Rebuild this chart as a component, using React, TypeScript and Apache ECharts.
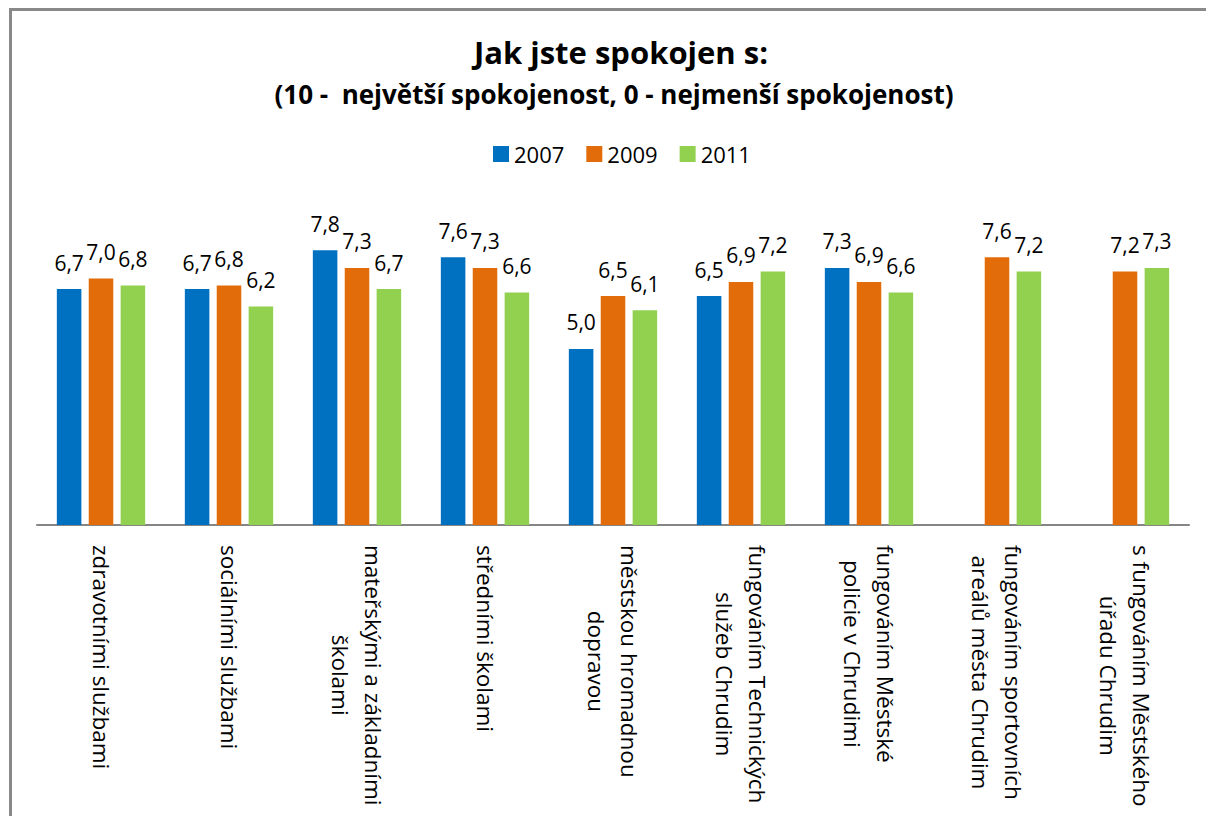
import React, { useEffect, useRef } from "react";
import * as echarts from "echarts";

const categories = [
  "zdravotními službami",
  "sociálními službami",
  "mateřskými a základními\nškolami",
  "středními školami",
  "městskou hromadnou\ndopravou",
  "fungováním Technických\nslužeb Chrudim",
  "fungováním Městské\npolicie v Chrudimi",
  "fungováním sportovních\nareálů města Chrudim",
  "s fungováním Městského\núřadu Chrudim",
];

const years = ["2007", "2009", "2011"];
const values2007 = [6.7, 6.7, 7.8, 7.6, 5.0, 6.5, 7.3, null, null];
const values2009 = [7.0, 6.8, 7.3, 7.3, 6.5, 6.9, 6.9, 7.6, 7.2];
const values2011 = [6.8, 6.2, 6.7, 6.6, 6.1, 7.2, 6.6, 7.2, 7.3];
const colors = ["#0070C0", "#E36C0A", "#92D050"];

const titleText = "Jak jste spokojen s:";
const subtitleText = "(10 -  největší spokojenost, 0 - nejmenší spokojenost)";

const FONT = "'Open Sans', 'Noto Sans', sans-serif";

export default function App() {
  const ref = useRef<HTMLDivElement>(null);

  useEffect(() => {
    if (!ref.current) return;
    const chart = echarts.init(ref.current, undefined, { renderer: "svg" });
    const seriesData = [values2007, values2009, values2011];
    chart.setOption({
      animation: false,
      backgroundColor: "#ffffff",
      textStyle: { fontFamily: FONT },
      title: [
        {
          text: titleText,
          left: 616,
          textAlign: "center",
          top: 31,
          textStyle: { fontSize: 31, fontWeight: "bold", color: "#000", fontFamily: FONT },
        },
        {
          text: subtitleText,
          left: 609,
          textAlign: "center",
          top: 76,
          textStyle: { fontSize: 26, fontWeight: "bold", color: "#000", fontFamily: FONT },
        },
      ],
      legend: {
        data: years,
        left: 488,
        top: 138,
        itemWidth: 16,
        itemHeight: 16,
        itemGap: 22,
        icon: "rect",
        textStyle: { fontSize: 22, color: "#000", fontFamily: FONT },
      },
      graphic: [
        {
          type: "polyline",
          shape: { points: [[10.5, 830], [10.5, 9.5], [1220, 9.5]] },
          style: { stroke: "#898989", lineWidth: 3, fill: null },
          silent: true,
        },
      ],
      grid: { left: 37, right: 17, top: 208, bottom: 291, containLabel: false, outerBoundsMode: "none" },
      xAxis: {
        type: "category",
        data: categories,
        axisLine: { lineStyle: { color: "#868686", width: 2 } },
        axisTick: { show: false },
        axisLabel: {
          interval: 0,
          rotate: -90,
          margin: 20,
          color: "#000",
          fontSize: 22.5,
          lineHeight: 33,
          fontFamily: FONT,
          formatter: (v: string) =>
            v
              .split("\n")
              .map((l) => `{c|${l}}`)
              .join("\n"),
          rich: {
            c: { align: "center", fontSize: 22.5, lineHeight: 33, fontFamily: FONT, color: "#000" },
          },
        },
      },
      yAxis: {
        type: "value",
        min: 0,
        max: 9,
        show: false,
        splitLine: { show: false },
      },
      series: years.map((y, i) => ({
        name: y,
        type: "bar",
        data: seriesData[i],
        itemStyle: { color: colors[i] },
        barGap: "30%",
        barCategoryGap: "31%",
        label: {
          show: true,
          position: "top",
          distance: 16,
          fontSize: 21,
          color: "#000",
          fontFamily: FONT,
          formatter: (p: any) =>
            p.value == null ? "" : Number(p.value).toFixed(1).replace(".", ","),
        },
      })),
    });
    return () => chart.dispose();
  }, []);

  return (
    <div
      ref={ref}
      style={{ position: "fixed", left: 0, top: 0, width: 1206, height: 816 }}
    />
  );
}
